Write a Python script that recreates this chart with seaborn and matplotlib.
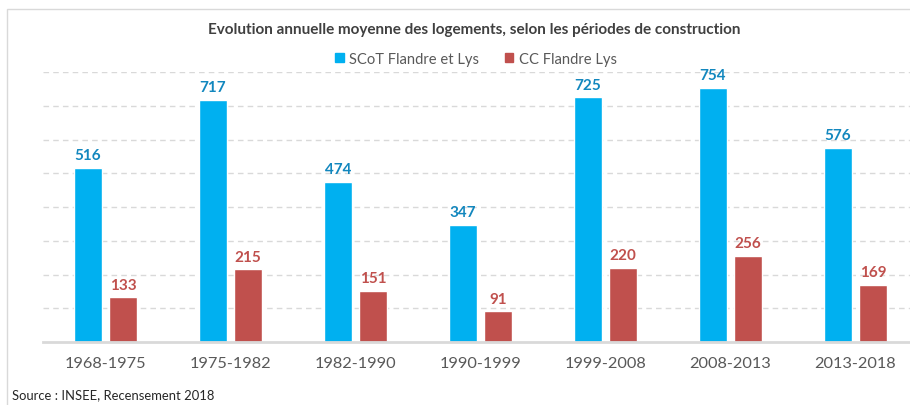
import matplotlib
matplotlib.use("Agg")
import matplotlib.pyplot as plt
import seaborn as sns
import pandas as pd
from matplotlib.patches import Rectangle

periods = ["1968-1975", "1975-1982", "1982-1990", "1990-1999", "1999-2008", "2008-2013", "2013-2018"]
scot = [516, 717, 474, 347, 725, 754, 576]
cc = [133, 215, 151, 91, 220, 256, 169]
series = ["SCoT Flandre et Lys", "CC Flandre Lys"]
colors = ["#00B0F0", "#C0504D"]
label_colors = ["#1287BE", "#C0504D"]

df = pd.DataFrame({
    "period": periods * 2,
    "value": scot + cc,
    "series": [series[0]] * len(periods) + [series[1]] * len(periods),
})

sns.set_theme(style="white")
plt.rcParams['font.family'] = ['Lato', 'DejaVu Sans']

fig = plt.figure(figsize=(9.1, 4.06), dpi=100)
ax = fig.add_axes([43 / 910, (406 - 343) / 406, 875 / 910, (343 - 73) / 406])

sns.barplot(data=df, x="period", y="value", hue="series", palette=colors,
            width=0.56, gap=0.2, ax=ax, legend=False, saturation=1)

ax.set_ylim(0, 800)
ax.set_xlim(-0.5, 6.5)
ax.set_yticks(range(100, 900, 100))
ax.yaxis.grid(True, linestyle=(0, (4, 3)), color="#D9D9D9", linewidth=1)
ax.set_axisbelow(True)
ax.set_yticklabels([])
ax.tick_params(axis="y", length=0)
ax.tick_params(axis="x", length=0, pad=10, labelsize=11.8, labelcolor="#595959")
ax.set_xlabel("")
ax.set_ylabel("")
for s in ["top", "right", "left"]:
    ax.spines[s].set_visible(False)
ax.spines["bottom"].set_color("#D9D9D9")
ax.spines["bottom"].set_linewidth(2)

for i, cont in enumerate(ax.containers):
    ax.bar_label(cont, padding=4, color=label_colors[i], fontsize=11, fontweight="bold")

# legend
handles = [Rectangle((0, 0), 1, 1, color=c) for c in colors]
fig.legend(handles, series, loc="center", bbox_to_anchor=(476 / 910, 1 - 60 / 406),
           ncol=2, frameon=False, fontsize=10.6, handlelength=0.6, handleheight=0.6,
           handletextpad=0.4, columnspacing=1.7, labelcolor="#595959")

fig.text(474 / 910, 1 - 30 / 406, "Evolution annuelle moyenne des logements, selon les périodes de construction",
         ha="center", va="center", fontsize=11.0, fontweight="bold", color="#404040")
fig.text(12 / 910, 1 - 395 / 406, "Source : INSEE, Recensement 2018", ha="left", va="center",
         fontsize=9.4, color="#262626")

fig.patches.append(Rectangle((7 / 910, -0.1), 1.2, 1 - 10 / 406 + 0.1, transform=fig.transFigure,
                             fill=False, edgecolor="#D9D9D9", linewidth=1, zorder=0))

fig.savefig("out.png", dpi=100)
